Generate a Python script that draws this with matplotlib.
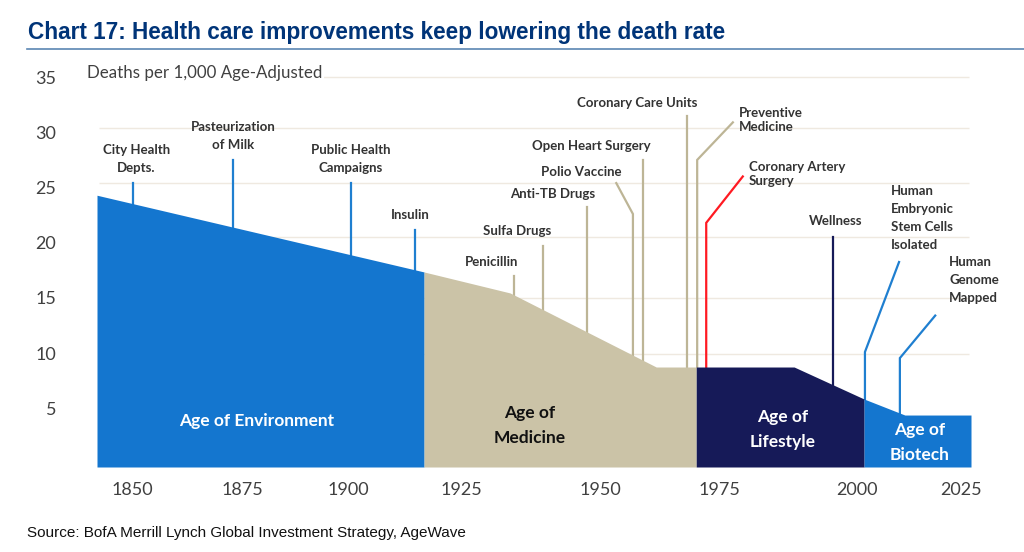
import numpy as np
import matplotlib
matplotlib.use("Agg")
import matplotlib.pyplot as plt

# ---- data ----
tick_years = [1850, 1875, 1900, 1925, 1950, 1975, 2000, 2025]
tick_values = [5, 10, 15, 20, 25, 30, 35]
grid_levels = [9.9, 15.0, 20.5, 25.4, 30.4, 35.05]

env_x = [1842.0, 1916.8]
env_y = [24.3, 17.35]
med_x = [1916.8, 1933.8, 1961.8, 1970.2]
med_y = [17.35, 15.45, 8.74, 8.74]
life_x = [1970.2, 1988.6, 2001.7]
life_y = [8.74, 8.74, 5.84]
bio_x = [2001.7, 2011.5, 2027.4]
bio_y = [5.84, 4.39, 4.39]

BLUE, TAN, NAVY, RED = "#1476CF", "#CBC3A7", "#161A58", "#FF1A22"
LBLUE, LTAN = "#1F7FD0", "#BDB596"

ev_names = ["City Health", "Pasteurization", "Public Health", "Insulin", "Penicillin",
            "Sulfa", "Anti-TB", "Polio", "Open Heart", "Coronary Care", "Preventive",
            "Coronary Artery", "Wellness", "Embryonic", "Genome"]
ev_x = [[1850.1, 1850.1], [1873, 1873], [1900.7, 1900.7], [1914.7, 1914.7],
        [1934.6, 1934.6], [1939.7, 1939.7], [1947.7, 1947.7],
        [1953.4, 1956.9, 1956.9], [1959, 1959], [1968.3, 1968.3],
        [1977.5, 1970.4, 1970.4], [1979.3, 1972.3, 1972.3], [1995.7, 1995.7],
        [2010.1, 2001.9, 2001.9], [2018.8, 2010.3, 2010.3]]
ev_y = [[25.4, 23.5], [27.5, 21.3], [25.4, 18.8], [21.15, 17.5],
        [17.0, 15.2], [19.7, 13.9], [23.2, 11.9],
        [25.4, 22.6, 9.8], [27.5, 9.4], [31.5, 8.74],
        [30.9, 27.5, 8.74], [26.0, 21.8, 8.74], [20.5, 7.1],
        [18.25, 10.1, 5.84], [13.4, 9.55, 4.5]]
ev_col = [LBLUE, LBLUE, LBLUE, LBLUE, LTAN, LTAN, LTAN, LTAN, LTAN, LTAN, LTAN,
          RED, NAVY, LBLUE, LBLUE]

# the source's time axis is hand spaced: year -> pixel anchors
anchor_year = [1800, 1850, 1875, 1900, 1925, 1950, 1975, 2000, 2025, 2050]
anchor_px = [-88, 132, 242, 348, 461, 600, 719, 857, 961, 1065]

W, H = 1024, 552
fig = plt.figure(figsize=(W / 100, H / 100), dpi=100, facecolor="white")
ax = fig.add_axes([97 / W, 1 - 467 / H, (971 - 97) / W, (467 - 60) / H])
ax.set_xscale("function", functions=(lambda v: np.interp(v, anchor_year, anchor_px),
                                     lambda p: np.interp(p, anchor_px, anchor_year)))
ax.set_xlim(1842.0, 2027.4)
ax.set_ylim(-0.317, 36.55)
for s in ax.spines.values():
    s.set_visible(False)

ax.hlines(grid_levels, 1842.5, 2027.0, color="#EFE9E0", lw=1.0, zorder=1)

bottom = -0.317
for xs, ys, c in [(env_x, env_y, BLUE), (med_x, med_y, TAN), (life_x, life_y, NAVY), (bio_x, bio_y, BLUE)]:
    ax.fill_between(xs, ys, bottom, color=c, lw=0, zorder=3)
for xs, ys, c in zip(ev_x, ev_y, ev_col):
    ax.plot(xs, ys, color=c, lw=1.6, zorder=2, solid_joinstyle="miter")

ax.set_xticks(tick_years)
ax.set_xticklabels([str(y) for y in tick_years])
ax.set_yticks(tick_values)
ax.set_yticklabels([str(v) for v in tick_values])
ax.tick_params(axis="x", length=0, pad=10.5, labelsize=13, labelcolor="#404040")
ax.tick_params(axis="y", length=0, pad=29.5, labelsize=13, labelcolor="#404040")
for t in ax.get_xticklabels() + ax.get_yticklabels():
    t.set_fontfamily("Lato")


def put(px, py, s, **kw):
    kw.setdefault("family", "Lato")
    kw.setdefault("ha", "center")
    kw.setdefault("va", "center")
    fig.text(px / W, 1 - py / H, s, **kw)


put(28, 33, "Chart 17: Health care improvements keep lowering the death rate",
    family="Liberation Sans", weight="bold", size=16.3, color="#003478", ha="left")
fig.add_artist(plt.Line2D([27 / W, 1], [1 - 49 / H] * 2, color="#5B86B3", lw=1.2))
put(87, 73, "Deaths per 1,000 Age-Adjusted", size=12.15, color="#404040", ha="left",
    bbox=dict(fc="white", ec="none", pad=1))
put(27, 533, "Source: BofA Merrill Lynch Global Investment Strategy, AgeWave",
    family="Liberation Sans", size=11, color="#111111", ha="left")

lab = dict(size=9.5, weight="bold", color="#333333", linespacing=1.55)
tight = dict(size=9.5, weight="bold", color="#333333", linespacing=1.15, ha="left")
tall = dict(size=9.5, weight="bold", color="#333333", linespacing=1.62, ha="left")
put(136.5, 159, "City Health\nDepts.", **lab)
put(233, 136, "Pasteurization\nof Milk", **lab)
put(351, 159, "Public Health\nCampaigns", **lab)
put(410, 215, "Insulin", **lab)
put(492, 262, "Penicillin", **lab)
put(517, 231, "Sulfa Drugs", **lab)
put(553, 194, "Anti-TB Drugs", **lab)
put(581, 172, "Polio Vaccine", **lab)
put(591, 146, "Open Heart Surgery", **lab)
put(637, 103, "Coronary Care Units", **lab)
put(739, 120, "Preventive\nMedicine", **tight)
put(749, 174, "Coronary Artery\nSurgery", **tight)
put(836, 221, "Wellness", **lab)
put(891, 218, "Human\nEmbryonic\nStem Cells\nIsolated", **tall)
put(949, 280, "Human\nGenome\nMapped", **tall)

age = dict(size=12.5, weight="bold", linespacing=1.72)
put(257, 421, "Age of Environment", color="white", **age)
put(530, 425.5, "Age of\nMedicine", color="#111111", **age)
put(783, 429.5, "Age of\nLifestyle", color="white", **age)
put(920, 442.5, "Age of\nBiotech", color="white", **age)

fig.savefig("out.png", dpi=100)
